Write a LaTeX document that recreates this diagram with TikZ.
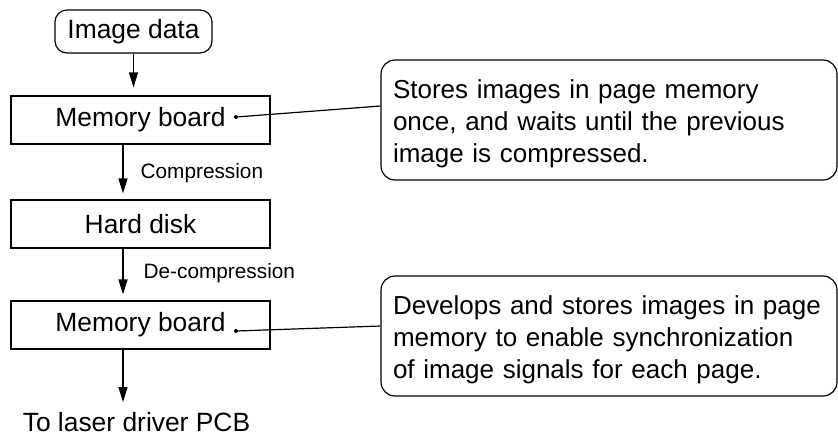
\documentclass[tikz,border=0pt]{standalone}
\usepackage{fontspec}
\setmainfont{Liberation Sans}
\usetikzlibrary{arrows.meta, positioning, calc}

\begin{document}
\begin{tikzpicture}[x=0.5pt, y=-0.5pt, line width=0.6pt,
    txt/.style={font=\fontsize{13.2}{16}\selectfont},
    start/.style={txt, draw, rounded corners=6pt, minimum width=78.5pt, minimum height=21.5pt, inner sep=0pt},
    box/.style={txt, draw, minimum width=129.5pt, minimum height=24pt, inner sep=0pt},
    note/.style={draw, rounded corners=7pt, minimum width=228pt, minimum height=60pt, text width=216pt, align=left, inner sep=0pt,
        font=\fontsize{13}{16}\selectfont, execute at begin node={\rule{0pt}{13.5pt}}},
    lbl/.style={anchor=west, inner sep=0pt, font=\fontsize{10.4}{12}\selectfont},
    arr/.style={-{Triangle[length=7.5pt, width=4.5pt]}}]

    \useasboundingbox (0,0) rectangle (838,435);

    % Flow boxes
    \node[start] (imgdata) at (133.5,31.5) {Image data};
    \node[box] (mem1) at (140.5,120) {Memory board};
    \node[box] (disk) at (140.5,224) {Hard disk};
    \node[box] (mem2) at (140.5,325) {Memory board};
    \node[txt] (laser) at (136.5,422) {To laser driver PCB};

    % Arrows between the boxes
    \draw[arr, shorten >=4pt] (imgdata.south) -- (imgdata.south |- mem1.north);
    \draw[arr, shorten >=3pt] ([xshift=-8.75pt]mem1.south) -- ([xshift=-8.75pt]disk.north);
    \draw[arr, shorten >=3pt] ([xshift=-8.75pt]disk.south) -- ([xshift=-8.75pt]mem2.north);
    \draw[arr, shorten >=1.5pt] ([xshift=-8.75pt]mem2.south) -- ([xshift=-8.75pt]mem2.south |- laser.north);

    % Arrow labels
    \node[lbl] (comp) at (140,173) {Compression};
    \node[lbl] (decomp) at (143,273) {De-compression};

    % Notes and their leader lines
    \node[note] (note1) at (609,120) {Stores images in page memory\\once, and waits until the previous\\image is compressed.};
    \node[note] (note2) at (609,336) {Develops and stores images in page\\memory to enable synchronization\\of image signals for each page.};

    \coordinate (dot1) at (236,117);
    \coordinate (dot2) at (236,331);
    \fill (dot1) circle (1pt);
    \draw (dot1) -- ([yshift=7pt]note1.west);
    \fill (dot2) circle (1pt);
    \draw (dot2) -- ([yshift=5pt]note2.west);

\end{tikzpicture}
\end{document}
